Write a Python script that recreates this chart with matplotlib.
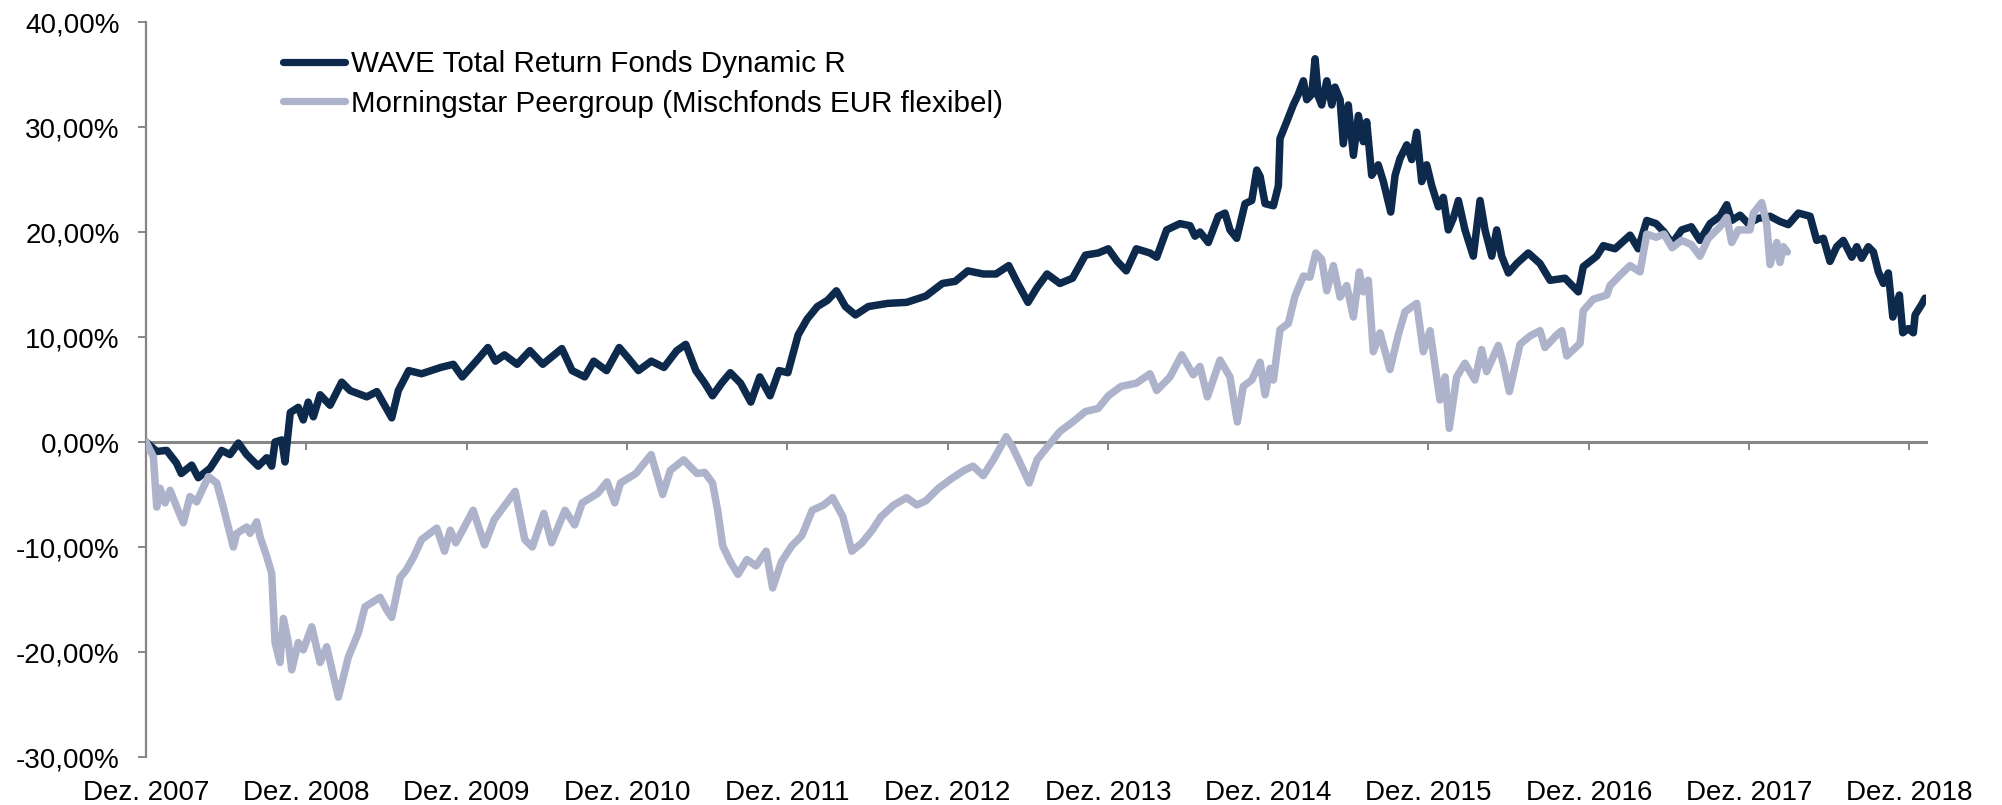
import matplotlib
matplotlib.use("Agg")
import matplotlib.pyplot as plt
from matplotlib.ticker import FuncFormatter
import matplotlib.transforms as mtransforms

# years since Dez. 2007, performance in %
wave_t = [0, 0.067, 0.129, 0.19, 0.22, 0.285, 0.326, 0.4, 0.472, 0.524, 0.576, 0.628,
          0.7, 0.753, 0.784, 0.805, 0.847, 0.867, 0.9, 0.95, 0.981, 1.012, 1.044, 1.086,
          1.148, 1.221, 1.273, 1.377, 1.44, 1.533, 1.574,
          1.639, 1.719, 1.838, 1.917, 1.973, 2.077, 2.133, 2.18, 2.236, 2.315, 2.395,
          2.475, 2.594, 2.658, 2.737, 2.793, 2.873, 2.952, 3.008, 3.072, 3.152, 3.231,
          3.311, 3.367, 3.43, 3.486, 3.534, 3.59, 3.645, 3.709, 3.773, 3.829, 3.893,
          3.949, 4.004, 4.068, 4.124, 4.188, 4.252, 4.307, 4.363, 4.426, 4.506, 4.626,
          4.745, 4.865, 4.968, 5.048, 5.127, 5.223, 5.302, 5.382, 5.438, 5.502, 5.558,
          5.621, 5.701, 5.78, 5.86, 5.94, 6.003, 6.059, 6.115, 6.178,
          6.263, 6.305, 6.367, 6.45, 6.513, 6.544, 6.575, 6.627, 6.689, 6.731, 6.762,
          6.804, 6.856, 6.898, 6.929, 6.95, 6.981, 7.033, 7.064, 7.074, 7.116, 7.157,
          7.188, 7.22, 7.241, 7.272, 7.293, 7.313, 7.334, 7.366, 7.397, 7.417, 7.449,
          7.469, 7.5, 7.532, 7.563, 7.594, 7.615, 7.646, 7.687, 7.719, 7.765, 7.792,
          7.823, 7.865, 7.896, 7.927, 7.958, 7.989, 8.021, 8.062, 8.093, 8.124, 8.155,
          8.187, 8.228, 8.28, 8.322, 8.353, 8.395, 8.426, 8.457, 8.499, 8.551, 8.623,
          8.696, 8.759, 8.852, 8.935, 8.966, 9.05, 9.091, 9.164, 9.258, 9.309, 9.362,
          9.42, 9.47, 9.52, 9.58, 9.64,
          9.694, 9.757, 9.819, 9.861, 9.892, 9.944, 9.996, 10.058, 10.131, 10.193,
          10.245, 10.308, 10.381, 10.422, 10.464, 10.505, 10.547, 10.588, 10.641,
          10.672, 10.703, 10.744, 10.776, 10.807, 10.838, 10.869, 10.897, 10.938,
          10.959, 10.994, 11.025, 11.036, 11.077, 11.098]
wave_v = [0, -0.9, -0.8, -2.0, -3.0, -2.2, -3.4, -2.5, -0.8, -1.2, -0.1, -1.2,
          -2.3, -1.5, -2.3, 0.0, 0.2, -1.9, 2.8, 3.3, 2.1, 3.8, 2.4, 4.5,
          3.5, 5.7, 4.9, 4.3, 4.8, 2.3, 4.9,
          6.8, 6.5, 7.1, 7.4, 6.2, 8.0, 9.0, 7.7, 8.3, 7.4, 8.7,
          7.4, 8.9, 6.8, 6.2, 7.7, 6.8, 9.0, 8.0, 6.8, 7.7, 7.1,
          8.7, 9.3, 6.8, 5.6, 4.4, 5.6, 6.6, 5.6, 3.8, 6.2, 4.4,
          6.8, 6.6, 10.2, 11.7, 12.9, 13.5, 14.4, 12.9, 12.1, 12.9, 13.2,
          13.3, 13.9, 15.1, 15.3, 16.3, 16.0, 16.0, 16.8, 15.1, 13.3, 14.7,
          16.0, 15.1, 15.6, 17.8, 18.0, 18.4, 17.2, 16.3, 18.4,
          18.0, 17.6, 20.2, 20.8, 20.6, 19.6, 20.0, 19.0, 21.5, 21.8, 20.2,
          19.4, 22.7, 23.0, 25.9, 25.3, 22.7, 22.5, 24.4, 28.9, 30.5, 32.1,
          33.1, 34.4, 32.6, 33.1, 36.5, 32.9, 32.1, 34.4, 32.1, 33.8, 32.6,
          28.4, 32.1, 27.3, 31.1, 28.6, 30.5, 25.4, 26.4, 24.8, 21.9, 25.4,
          27.0, 28.3, 26.9, 29.5, 24.8, 26.4, 24.4, 22.4, 23.3, 20.2, 21.3,
          23.0, 20.2, 17.7, 23.0, 20.2, 17.7, 20.2, 17.7, 16.1, 17.0, 18.0,
          17.0, 15.4, 15.6, 14.3, 16.7, 17.7, 18.7, 18.4, 19.7, 18.4, 21.1,
          20.8, 20.0, 18.9, 20.2, 20.5,
          19.2, 20.8, 21.5, 22.6, 21.1, 21.6, 20.8, 21.3, 21.5, 21.0,
          20.7, 21.8, 21.5, 19.2, 19.4, 17.2, 18.6, 19.2, 17.6,
          18.6, 17.5, 18.6, 18.1, 16.2, 15.1, 16.1, 11.9, 14.0,
          10.4, 10.8, 10.4, 12.1, 13.1, 13.7]

peer_t = [0, 0.046, 0.067, 0.087, 0.119, 0.15, 0.192, 0.233, 0.274, 0.316, 0.389,
          0.441, 0.482, 0.545, 0.566, 0.628, 0.649, 0.691, 0.711, 0.753, 0.784, 0.805,
          0.836, 0.857, 0.888, 0.909, 0.95, 0.981, 1.034, 1.086, 1.127, 1.2, 1.262,
          1.324, 1.366, 1.46, 1.502, 1.533, 1.585, 1.623, 1.671, 1.719, 1.814, 1.862,
          1.898, 1.933, 2.041, 2.112, 2.172, 2.303, 2.363, 2.41, 2.482, 2.53, 2.614,
          2.674, 2.721, 2.817, 2.876, 2.924, 2.96, 3.056, 3.151, 3.223, 3.271, 3.354,
          3.437, 3.486, 3.534, 3.566, 3.598, 3.645, 3.693, 3.749, 3.805, 3.869, 3.909,
          3.964, 4.028, 4.092, 4.156, 4.228, 4.283, 4.347, 4.403, 4.467, 4.53, 4.586,
          4.665, 4.745, 4.809, 4.865, 4.944, 5.024, 5.103, 5.159, 5.223, 5.286, 5.366,
          5.406, 5.462, 5.51, 5.558, 5.621, 5.701, 5.78, 5.86, 5.94, 6.003, 6.083,
          6.178,
          6.263, 6.305, 6.388, 6.461, 6.533, 6.575, 6.621, 6.7, 6.762, 6.808, 6.845,
          6.898, 6.95, 6.981, 7.012, 7.033, 7.074, 7.126, 7.168, 7.22, 7.261, 7.297,
          7.334, 7.366, 7.407, 7.449, 7.49, 7.532, 7.569, 7.594, 7.625, 7.656, 7.698,
          7.76, 7.812, 7.854, 7.927, 7.968, 8.01, 8.072, 8.104, 8.13, 8.176, 8.228,
          8.29, 8.332, 8.363, 8.436, 8.467, 8.505, 8.571, 8.634, 8.696, 8.727, 8.8,
          8.832, 8.863, 8.946, 8.966, 9.029, 9.113, 9.133, 9.196, 9.258, 9.32, 9.362,
          9.42, 9.47, 9.52, 9.58, 9.64,
          9.694, 9.746, 9.819, 9.861, 9.892, 9.933, 10.006, 10.027, 10.079, 10.11,
          10.131, 10.173, 10.193, 10.214, 10.239]
peer_v = [0, -1.4, -6.2, -4.4, -5.8, -4.6, -6.2, -7.7, -5.2, -5.7, -3.3,
          -3.9, -6.2, -10.0, -8.7, -8.1, -8.7, -7.6, -9.0, -10.9, -12.5, -19.1,
          -21.0, -16.8, -19.1, -21.7, -19.1, -19.8, -17.6, -21.0, -19.5, -24.3, -20.5,
          -18.2, -15.7, -14.8, -16.0, -16.7, -12.9, -12.2, -10.9, -9.3, -8.2, -10.4,
          -8.4, -9.6, -6.5, -9.8, -7.4, -4.7, -9.3, -10.0, -6.8, -9.6, -6.5,
          -7.9, -5.8, -4.9, -3.8, -5.8, -3.9, -3.0, -1.2, -5.0, -2.7, -1.7,
          -3.0, -2.9, -3.9, -6.5, -9.9, -11.4, -12.6, -11.2, -11.8, -10.4, -13.9,
          -11.4, -9.9, -8.9, -6.5, -6.0, -5.3, -7.1, -10.4, -9.6, -8.4, -7.1,
          -6.0, -5.3, -6.0, -5.6, -4.4, -3.5, -2.7, -2.3, -3.2, -1.7, 0.5,
          -0.5, -2.3, -3.9, -1.7, -0.5, 1.0, 1.9, 2.9, 3.2, 4.4, 5.3,
          5.6,
          6.5, 4.9, 6.2, 8.3, 6.4, 7.2, 4.3, 7.8, 6.2, 1.9, 5.3,
          5.9, 7.6, 4.5, 7.0, 5.9, 10.7, 11.3, 13.9, 15.8, 15.7, 18.0,
          17.4, 14.4, 16.8, 13.8, 14.9, 11.9, 16.2, 14.3, 15.4, 8.6, 10.4,
          6.9, 10.2, 12.4, 13.2, 8.6, 10.6, 4.0, 6.2, 1.3, 6.2, 7.5,
          5.9, 8.8, 6.7, 9.2, 7.5, 4.8, 9.3, 10.1, 10.6, 9.0, 10.2,
          10.6, 8.2, 9.4, 12.5, 13.6, 14.0, 14.9, 15.9, 16.8, 16.2, 19.8,
          19.5, 19.8, 18.5, 19.2, 18.8,
          17.7, 19.4, 20.5, 21.4, 19.0, 20.2, 20.2, 21.8, 22.8, 20.8,
          16.9, 19.0, 17.1, 18.6, 18.1]

year_labels = ["Dez. %d" % y for y in range(2007, 2019)]
y_ticks = [-30, -20, -10, 0, 10, 20, 30, 40]

wave_col = "#0d2a4d"
peer_col = "#adb3cb"
axis_col = "#868686"

plt.rcParams["font.family"] = ["Liberation Sans", "DejaVu Sans"]

fig = plt.figure(figsize=(20.02, 8.05), dpi=100)
ax = fig.add_axes([146 / 2002, 1 - 757 / 805, 1780 / 2002, 735 / 805])

ax.plot(wave_t, wave_v, color=wave_col, lw=5.4, solid_joinstyle="round",
        solid_capstyle="round", label="WAVE Total Return Fonds Dynamic R", zorder=3)
ax.plot(peer_t, peer_v, color=peer_col, lw=5.4, solid_joinstyle="round",
        solid_capstyle="round", label="Morningstar Peergroup (Mischfonds EUR flexibel)",
        zorder=4)

ax.set_xlim(0, 11.104)
ax.set_ylim(-30, 40)

for s in ["top", "right"]:
    ax.spines[s].set_visible(False)
ax.spines["left"].set_color(axis_col)
ax.spines["left"].set_linewidth(1.6)
ax.spines["bottom"].set_color(axis_col)
ax.spines["bottom"].set_linewidth(2.2)
ax.spines["bottom"].set_position(("data", 0))

ax.set_yticks(y_ticks)
ax.yaxis.set_major_formatter(FuncFormatter(lambda v, p: ("%.2f%%" % v).replace(".", ",")))
ax.tick_params(axis="y", direction="out", length=6, width=1.4, color=axis_col,
               labelsize=20, pad=13)
ax.set_xticks(range(len(year_labels)))
ax.tick_params(axis="x", direction="out", length=6, width=1.4, color=axis_col,
               labelbottom=False)

trans = mtransforms.blended_transform_factory(ax.transData, ax.transAxes)
for i, lab in enumerate(year_labels):
    ax.text(i, -0.058, lab, transform=trans, ha="center", va="baseline", fontsize=20)

leg = ax.legend(loc="upper left", bbox_to_anchor=(0.077, 0.962), frameon=False,
                fontsize=21.3, handlelength=2.1, handletextpad=0.2, labelspacing=0.4,
                borderpad=0, borderaxespad=0)
for h in leg.get_lines():
    h.set_linewidth(5.2)

fig.savefig("out.png", dpi=100)
